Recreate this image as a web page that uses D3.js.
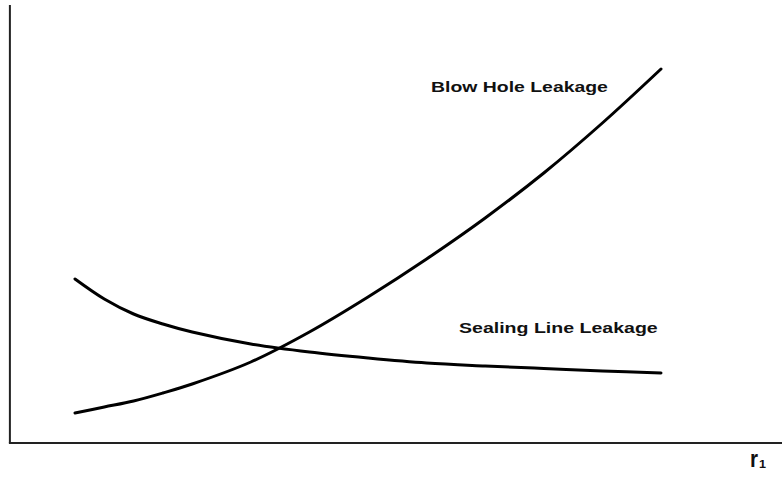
<!DOCTYPE html>
<html>
<head>
<meta charset="utf-8">
<script src="https://cdn.jsdelivr.net/npm/d3@7"></script>
<style>
html,body{margin:0;padding:0;background:#fff;}
svg{display:block;}
text{font-family:"Liberation Sans",Arial,sans-serif;font-weight:bold;fill:#111;}
</style>
</head>
<body>
<script>
const r1Values = [0, 0.5, 1, 1.5, 2, 3, 4, 5, 6, 7, 8, 9, 10];
const blowHole = [30, 36, 42, 50, 59, 81, 111, 146, 184, 225, 270, 320, 374];
const sealingLine = [164, 144, 129, 119, 111, 99, 91, 85, 80, 77, 74.5, 72, 70];
const seriesLabels = ["Blow Hole Leakage", "Sealing Line Leakage"];
const axisLabel = "r";
const axisSub = "1";

const W = 782, H = 479;
const svg = d3.select("body").append("svg").attr("width", W).attr("height", H);

const x = d3.scaleLinear().domain([0, 10]).range([75, 661]);
const y = d3.scaleLinear().domain([0, 438]).range([443, 5]);

// axes
svg.append("line").attr("x1", x(-1.111)).attr("x2", x(-1.111)).attr("y1", y(438)).attr("y2", y(0))
  .attr("stroke", "#222").attr("stroke-width", 2);
svg.append("line").attr("x1", x(-1.111) - 1).attr("x2", W).attr("y1", y(0)).attr("y2", y(0))
  .attr("stroke", "#222").attr("stroke-width", 2);

const line = d3.line().x(d => x(d[0])).y(d => y(d[1])).curve(d3.curveCatmullRom.alpha(0.5));

[blowHole, sealingLine].forEach(vals => {
  svg.append("path").datum(r1Values.map((r, i) => [r, vals[i]]))
    .attr("d", line).attr("fill", "none").attr("stroke", "#000")
    .attr("stroke-width", 3).attr("stroke-linecap", "round");
});

function stretched(txt, x0, y0, size, width) {
  const g = svg.append("g").attr("transform", `translate(${x0},${y0})`);
  const t = g.append("text").attr("font-size", size).text(txt);
  const w = t.node().getComputedTextLength();
  t.attr("transform", `scale(${width / w},1)`);
  return t;
}

stretched(seriesLabels[0], 431, 92, 15.5, 177);
stretched(seriesLabels[1], 459, 333, 15.5, 199);
stretched(axisLabel, 750, 467, 23, 8);
stretched(axisSub, 759, 468, 10, 7);
</script>
</body>
</html>
